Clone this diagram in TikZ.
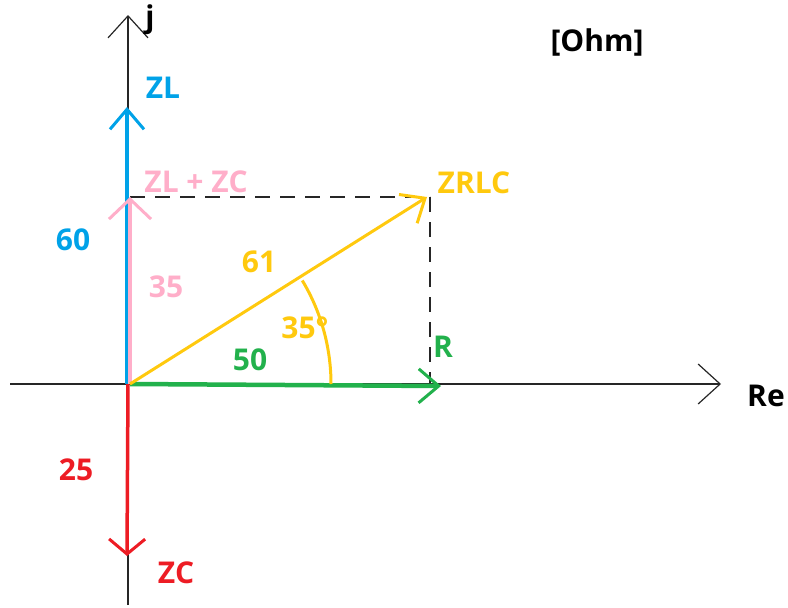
\documentclass[tikz,border=0pt]{standalone}
\usepackage{fontspec}
\setmainfont{Open Sans}
\usepackage{xcolor}
\usetikzlibrary{arrows.meta}
\definecolor{phasorblue}{RGB}{0,162,232}
\definecolor{phasorpink}{RGB}{255,174,201}
\definecolor{phasorred}{RGB}{237,28,36}
\definecolor{phasorgreen}{RGB}{34,177,76}
\definecolor{phasoryellow}{RGB}{255,201,14}
\tikzset{
    axisline/.style={-{Straight Barb[length=22pt, width=40pt, line width=1.2pt]}, line width=1.2pt, draw=black!85},
    phasor/.style={line width=3.5pt, -{Straight Barb[length=20pt, width=34pt, line width=3pt]}},
    guideline/.style={line width=1.4pt, dash pattern=on 15pt off 10pt, draw=black!85},
    lbl/.style={font=\fontsize{30}{32}\selectfont\bfseries, inner sep=0pt}
}
\begin{document}
\begin{tikzpicture}[x=1pt, y=-1pt]
    \useasboundingbox (0,0) rectangle (788,608);
    % axes
    \coordinate (O) at (128,384);
    \coordinate (xleft) at (10,384);
    \coordinate (xright) at (721,384);
    \coordinate (ybottom) at (128,605);
    \coordinate (ytop) at (128,15);
    \draw[axisline] (xleft) -- (xright);
    \draw[axisline] (ybottom) -- (ytop);
    \node[lbl] (re) at (766,396) {Re};
    \node[lbl] (jj) at (150,20) {j};
    \node[lbl] (unit) at (597,42) {[Ohm]};

    % phasor tips
    \coordinate (Otl) at (127,384);
    \coordinate (Otr) at (130,384);
    \coordinate (ZLtip) at (127,107);
    \coordinate (ZLZCtip) at (130,197);
    \coordinate (ZCtip) at (127,556);
    \coordinate (Rtip) at (441,386);
    \coordinate (Ztip) at (427,197);
    \coordinate (Rtop) at (430,197);
    \coordinate (Rfoot) at (430,384);

    % dashed projections
    \draw[guideline] (ZLZCtip) -- (Rtop);
    \draw[guideline] (Rtop) -- (Rfoot);

    % phasors
    \draw[phasor, phasorblue] (Otl) -- (ZLtip);
    \draw[phasor, phasorpink, -{Straight Barb[length=20pt, width=42pt, line width=3pt]}] (Otr) -- (ZLZCtip);
    \draw[phasor, phasorred, -{Straight Barb[length=15pt, width=36pt, line width=3pt]}] (O) -- (ZCtip);
    \draw[phasor, phasorgreen, line width=4.5pt] (Otr) -- (Rtip);
    \draw[phasor, phasoryellow, line width=3pt] (Otr) -- (Ztip);
    \draw[phasoryellow, line width=3pt] (331,384) arc[start angle=0, end angle=-31, radius=201];

    % labels
    \node[lbl, phasorblue] (zl) at (163,88) {ZL};
    \node[lbl, phasorblue] (sixty) at (73,240) {60};
    \node[lbl, phasorpink] (zlzc) at (196,182) {ZL + ZC};
    \node[lbl, phasorpink] (thirtyfive) at (166,287) {35};
    \node[lbl, phasorred] (twentyfive) at (76,470) {25};
    \node[lbl, phasorred] (zc) at (176,573) {ZC};
    \node[lbl, phasorgreen] (fifty) at (250,360) {50};
    \node[lbl, phasorgreen] (rr) at (443,347) {R};
    \node[lbl, phasoryellow] (sixtyone) at (259,262) {61};
    \node[lbl, phasoryellow] (angle) at (305,328) {35°};
    \node[lbl, phasoryellow] (zrlc) at (474,183) {ZRLC};
\end{tikzpicture}
\end{document}
